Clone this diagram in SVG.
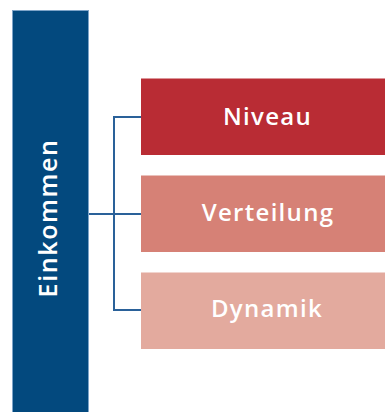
<svg xmlns="http://www.w3.org/2000/svg" width="385" height="412" viewBox="0 0 385 412">
<style>
.lbl{font-family:"Open Sans","Liberation Sans",sans-serif;fill:#ffffff;font-size:24px;font-weight:600;letter-spacing:1.3px;text-anchor:middle}
.big{font-size:25px;letter-spacing:1.6px}
.con{stroke:#2a6199;stroke-width:2;fill:none}
</style>
<rect width="385" height="412" fill="#ffffff"/>
<g id="connectors">
<path class="con" d="M89,214 H141"/>
<path class="con" d="M141,117 H114 V310 H141"/>
</g>
<g id="einkommen">
<rect x="12.5" y="10.5" width="76" height="402" fill="#03497e" stroke="#7ea4c8" stroke-width="1"/>
<text class="lbl big" transform="translate(57,218) rotate(-90)" x="0" y="0">Einkommen</text>
</g>
<g id="niveau">
<rect x="141" y="78.5" width="244" height="76.5" fill="#b92c34"/>
<text class="lbl" x="267.5" y="124.5">Niveau</text>
</g>
<g id="verteilung">
<rect x="141" y="175.5" width="244" height="76.5" fill="#d68176"/>
<text class="lbl" x="268" y="220.5">Verteilung</text>
</g>
<g id="dynamik">
<rect x="141" y="272.5" width="244" height="76.5" fill="#e3aa9e"/>
<text class="lbl" x="267" y="316.5">Dynamik</text>
</g>
</svg>
